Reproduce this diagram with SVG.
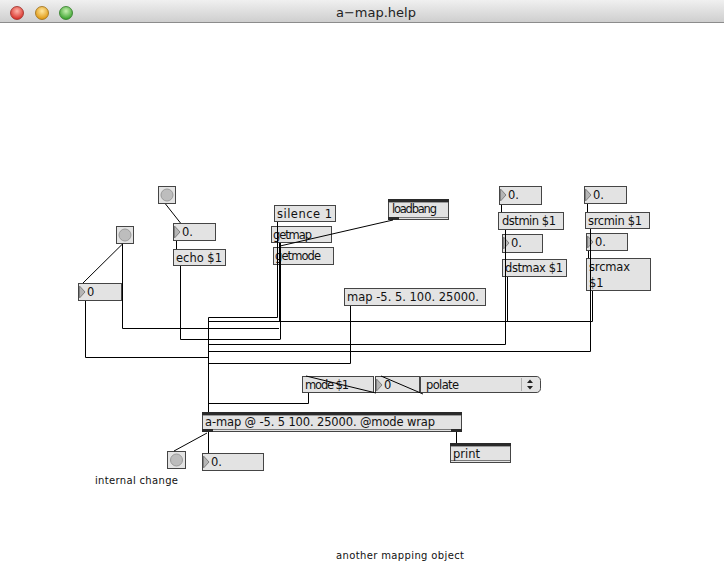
<svg xmlns="http://www.w3.org/2000/svg" width="724" height="565" viewBox="0 0 724 565">
  <defs>
    <linearGradient id="bar" x1="0" y1="0" x2="0" y2="1">
      <stop offset="0" stop-color="#f0f0f0"/>
      <stop offset="1" stop-color="#cdcdcd"/>
    </linearGradient>
    <radialGradient id="red" cx="0.5" cy="0.35" r="0.6">
      <stop offset="0" stop-color="#ffb3a8"/>
      <stop offset="1" stop-color="#d8342c"/>
    </radialGradient>
    <radialGradient id="yellow" cx="0.5" cy="0.35" r="0.6">
      <stop offset="0" stop-color="#ffe7a0"/>
      <stop offset="1" stop-color="#e09a15"/>
    </radialGradient>
    <radialGradient id="green" cx="0.5" cy="0.35" r="0.6">
      <stop offset="0" stop-color="#c6f0b0"/>
      <stop offset="1" stop-color="#3fa532"/>
    </radialGradient>
  </defs>
  <style>
    .box { fill: #e3e3e3; stroke: #454545; stroke-width: 1; }
    .t { font-family: "DejaVu Sans", "Liberation Sans", sans-serif; font-size: 11.5px; fill: #111; }
    .lbl { font-family: "DejaVu Sans", "Liberation Sans", sans-serif; font-size: 10px; fill: #111; }
    .tri { fill: #b5b5b5; stroke: #808080; stroke-width: 1; }
    .led { fill: #bdbdbd; stroke: #9a9a9a; stroke-width: 1; }
    .bar { fill: #2a2a2a; }
    .c { stroke: #000; stroke-width: 1; fill: none; }
    .c2 { stroke: #000; stroke-width: 2; fill: none; }
  </style>

  <rect width="724" height="565" fill="#ffffff"/>

  <!-- window title bar -->
  <g id="titlebar">
    <rect x="0" y="0" width="724" height="23" fill="url(#bar)"/>
    <line x1="0" y1="22.5" x2="724" y2="22.5" stroke="#8c8c8c"/>
    <circle cx="17" cy="13" r="6.5" fill="url(#red)" stroke="#9b2a24" stroke-width="0.8"/>
    <circle cx="42" cy="13" r="6.5" fill="url(#yellow)" stroke="#9b6b14" stroke-width="0.8"/>
    <circle cx="66" cy="13" r="6.5" fill="url(#green)" stroke="#2f7a25" stroke-width="0.8"/>
    <text x="376" y="17" text-anchor="middle" font-family="'DejaVu Sans', 'Liberation Sans', sans-serif" font-size="13" fill="#222">a−map.help</text>
  </g>

  <!-- top bang -->
  <g id="bang-top">
    <rect class="box" x="158.5" y="186.5" width="17" height="17"/>
    <circle class="led" cx="167" cy="195" r="6"/>
  </g>

  <!-- float number feeding echo -->
  <g id="num-echo">
    <rect class="box" x="173.5" y="223.5" width="42" height="17"/>
    <path class="tri" d="M174.5,226 L180,232 L174.5,238 Z"/>
    <text class="t" x="182" y="236">0.</text>
  </g>

  <g id="msg-echo">
    <rect class="box" x="173.5" y="249.5" width="52" height="16"/>
    <text class="t" x="176" y="262" textLength="46" lengthAdjust="spacing">echo $1</text>
  </g>

  <!-- left bang -->
  <g id="bang-left">
    <rect class="box" x="116.5" y="226.5" width="17" height="17"/>
    <circle class="led" cx="125" cy="235" r="6"/>
  </g>

  <!-- integer number -->
  <g id="num-int">
    <rect class="box" x="78.5" y="283.5" width="43" height="17"/>
    <path class="tri" d="M79.5,286 L85,292 L79.5,298 Z"/>
    <text class="t" x="87" y="296">0</text>
  </g>

  <g id="msg-silence">
    <rect class="box" x="274.5" y="205.5" width="61" height="16"/>
    <text class="t" x="277" y="218" textLength="55" lengthAdjust="spacing">silence 1</text>
  </g>

  <g id="msg-getmap">
    <rect class="box" x="271.5" y="226.5" width="60" height="16"/>
    <text class="t" x="273" y="239" textLength="39" lengthAdjust="spacing">getmap</text>
  </g>

  <g id="msg-getmode">
    <rect class="box" x="273.5" y="247.5" width="60" height="17"/>
    <text class="t" x="275" y="260" textLength="46" lengthAdjust="spacing">getmode</text>
  </g>

  <g id="obj-loadbang">
    <rect class="box" x="388.5" y="199.5" width="60" height="20"/>
    <rect class="bar" x="388" y="199" width="61" height="3"/>
    <line x1="389" y1="202.5" x2="448" y2="202.5" stroke="#9a9a9a"/>
    <rect class="bar" x="388" y="217" width="11" height="3"/>
    <line x1="399" y1="217.5" x2="448" y2="217.5" stroke="#7a7a7a"/>
    <text class="t" x="392" y="213" textLength="45" lengthAdjust="spacing">loadbang</text>
  </g>

  <g id="msg-map">
    <rect class="box" x="344.5" y="288.5" width="141" height="17"/>
    <text class="t" x="347" y="301" textLength="132" lengthAdjust="spacing">map -5. 5. 100. 25000.</text>
  </g>

  <!-- destination range -->
  <g id="num-dstmin">
    <rect class="box" x="499.5" y="186.5" width="42" height="18"/>
    <path class="tri" d="M500.5,189 L506,195 L500.5,201 Z"/>
    <text class="t" x="508" y="199">0.</text>
  </g>
  <g id="msg-dstmin">
    <rect class="box" x="498.5" y="212.5" width="65" height="17"/>
    <text class="t" x="502" y="225" textLength="54" lengthAdjust="spacing">dstmin $1</text>
  </g>
  <g id="num-dstmax">
    <rect class="box" x="502.5" y="234.5" width="40" height="18"/>
    <path class="tri" d="M503.5,237 L509,243 L503.5,249 Z"/>
    <text class="t" x="511" y="247">0.</text>
  </g>
  <g id="msg-dstmax">
    <rect class="box" x="502.5" y="259.5" width="64" height="17"/>
    <text class="t" x="505" y="272" textLength="58" lengthAdjust="spacing">dstmax $1</text>
  </g>

  <!-- source range -->
  <g id="num-srcmin">
    <rect class="box" x="584.5" y="186.5" width="42" height="17"/>
    <path class="tri" d="M585.5,189 L591,195 L585.5,201 Z"/>
    <text class="t" x="593" y="199">0.</text>
  </g>
  <g id="msg-srcmin">
    <rect class="box" x="585.5" y="212.5" width="64" height="16"/>
    <text class="t" x="588" y="225" textLength="54" lengthAdjust="spacing">srcmin $1</text>
  </g>
  <g id="num-srcmax">
    <rect class="box" x="586.5" y="233.5" width="41" height="17"/>
    <path class="tri" d="M587.5,236 L593,242 L587.5,248 Z"/>
    <text class="t" x="595" y="246">0.</text>
  </g>
  <g id="msg-srcmax">
    <rect class="box" x="586.5" y="258.5" width="64" height="32"/>
    <text class="t" x="589" y="271" textLength="41" lengthAdjust="spacing">srcmax</text>
    <text class="t" x="589" y="287">$1</text>
  </g>

  <!-- mode selection -->
  <g id="msg-mode">
    <rect class="box" x="302.5" y="376.5" width="71" height="16"/>
    <text class="t" x="305" y="389" textLength="44" lengthAdjust="spacing">mode $1</text>
  </g>
  <g id="num-mode">
    <rect class="box" x="375.5" y="376.5" width="44" height="16"/>
    <path class="tri" d="M376.5,379 L382,385 L376.5,391 Z"/>
    <text class="t" x="384" y="389">0</text>
  </g>
  <g id="umenu">
    <path class="box" d="M420.5,376.5 H536 A4,4 0 0 1 540.5,380.5 V388.5 A4,4 0 0 1 536,392.5 H420.5 Z"/>
    <line x1="521.5" y1="378" x2="521.5" y2="391" stroke="#b0b0b0"/>
    <path d="M527,383 L530,379.5 L533,383 Z M527,386 L530,389.5 L533,386 Z" fill="#222"/>
    <text class="t" x="426" y="389" textLength="33" lengthAdjust="spacing">polate</text>
  </g>

  <!-- main object -->
  <g id="obj-amap">
    <rect class="box" x="202.5" y="412.5" width="259" height="19"/>
    <rect class="bar" x="202" y="412" width="260" height="3"/>
    <line x1="203" y1="415.5" x2="461" y2="415.5" stroke="#9a9a9a"/>
    <rect class="bar" x="202" y="429" width="11" height="3"/>
    <rect class="bar" x="451" y="429" width="11" height="3"/>
    <line x1="213" y1="429.5" x2="451" y2="429.5" stroke="#7a7a7a"/>
    <text class="t" x="205" y="426" textLength="230" lengthAdjust="spacing">a-map @ -5. 5 100. 25000. @mode wrap</text>
  </g>

  <g id="obj-print">
    <rect class="box" x="450.5" y="443.5" width="60" height="19"/>
    <rect class="bar" x="450" y="443" width="61" height="3"/>
    <line x1="451" y1="446.5" x2="510" y2="446.5" stroke="#9a9a9a"/>
    <line x1="451" y1="460.5" x2="510" y2="460.5" stroke="#7a7a7a"/>
    <text class="t" x="453" y="458" textLength="27" lengthAdjust="spacing">print</text>
  </g>

  <g id="bang-change">
    <rect class="box" x="167.5" y="451.5" width="18" height="17"/>
    <circle class="led" cx="176.5" cy="460" r="6"/>
  </g>

  <g id="num-out">
    <rect class="box" x="202.5" y="453.5" width="61" height="17"/>
    <path class="tri" d="M203.5,456 L209,462 L203.5,468 Z"/>
    <text class="t" x="211" y="466">0.</text>
  </g>

  <g id="comments">
    <text class="lbl" x="95" y="484" textLength="83" lengthAdjust="spacing">internal change</text>
    <text class="lbl" x="336" y="559" textLength="128" lengthAdjust="spacing">another mapping object</text>
  </g>

  <!-- patch cords, drawn over the boxes -->
  <g id="connectors">
    <path class="c" d="M165.5,204 L180.5,223"/>
    <path class="c" d="M176.5,241 V249"/>
    <path class="c" d="M180.5,266 V339.5 H280"/>
    <path class="c" d="M122.5,244 L83,283"/>
    <path class="c" d="M122.5,244 V328.5 H279"/>
    <path class="c" d="M85.5,301 V357.5 H208"/>
    <path class="c" d="M277.5,222 V317.5 H208.5 V412"/>
    <path class="c2" d="M280,243 V321"/>
    <path class="c" d="M280.5,321 V339.5"/>
    <path class="c" d="M393,220 L280,246"/>
    <path class="c" d="M350.5,306 V363.5 H208"/>
    <path class="c" d="M501.5,205 V212"/>
    <path class="c" d="M505.5,230 V344.5 H208"/>
    <path class="c" d="M505.5,253 V259"/>
    <path class="c" d="M507.5,277 V321.5 H208"/>
    <path class="c" d="M587.5,204 V212"/>
    <path class="c" d="M590.5,229 V351.5 H208"/>
    <path class="c" d="M588.5,251 V258"/>
    <path class="c" d="M592.5,291 V321.5 H507"/>
    <path class="c" d="M308.5,393 V403.5 H208"/>
    <path class="c" d="M376,393 L306,376"/>
    <path class="c" d="M423,394 L381,376"/>
    <path class="c" d="M208.5,432 V453"/>
    <path class="c" d="M207,433 L174,451"/>
    <path class="c" d="M456.5,432 V443"/>
  </g>
</svg>
